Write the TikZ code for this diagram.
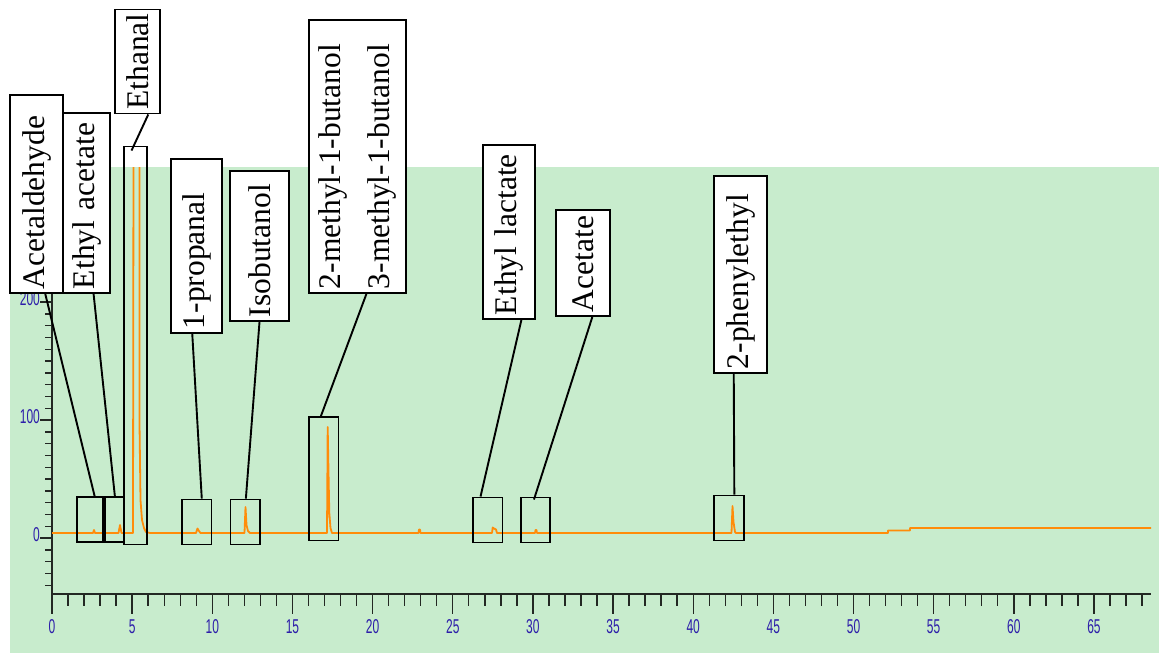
\documentclass[tikz,border=0pt]{standalone}
\usepackage{fontspec}
\setmainfont{Liberation Serif}
\newfontfamily\axisfont{Liberation Sans}
\usetikzlibrary{calc,fit}

\definecolor{plotbg}{RGB}{200,236,205}
\definecolor{trace}{RGB}{255,140,10}
\definecolor{ticklbl}{RGB}{45,30,170}
\definecolor{axisgray}{RGB}{35,40,35}

\begin{document}
\begin{tikzpicture}[x=1pt,y=-1pt,
  axisline/.style={draw=axisgray, line width=2pt},
  tickline/.style={draw=axisgray, line width=1.4pt},
  xlab/.style={text=ticklbl, font=\axisfont\fontsize{20}{20}\selectfont, xscale=0.6, inner sep=0pt},
  ylab/.style={xlab, anchor=east},
  peakbox/.style={draw=black, line width=1.9pt, inner sep=0pt},
  lbl/.style={draw=black, fill=white, line width=1.9pt, rotate=90,
    inner xsep=4pt, inner ysep=0pt, align=left,
    font=\fontsize{31.5}{49}\selectfont},
  link/.style={draw=black, line width=1.9pt}]

% canvas and plot area
\useasboundingbox (0,0) rectangle (1163,653);
\fill[white] (0,0) rectangle (1163,653);
\fill[plotbg] (10,167) rectangle (1159,653);

% y axis with ticks and labels
\draw[axisline] (52,167) -- (52,594);
\foreach \v in {-40,-30,...,310}{
  \pgfmathtruncatemacro\r{mod(abs(\v),100)}
  \ifnum\r=0
    \draw[tickline] (40,538-1.18*\v) -- (52,538-1.18*\v);
  \else
    \draw[tickline] (45,538-1.18*\v) -- (52,538-1.18*\v);
  \fi
}
\foreach \v in {0,100,200}
  \node[ylab] (yl\v) at (40,535-1.18*\v) {\v};

% x axis with ticks and labels
\draw[axisline] (52,594) -- (1151,594);
\foreach \i in {0,...,68}{
  \pgfmathtruncatemacro\r{mod(\i,5)}
  \ifnum\r=0
    \draw[tickline] (52+16.03*\i,594) -- ++(0,20);
  \else
    \draw[tickline] (52+16.03*\i,594) -- ++(0,12);
  \fi
}
\foreach \v in {0,5,...,65}
  \node[xlab] (xl\v) at (52+16.03*\v,627) {\v};

% chromatogram trace
\begin{scope}
  \clip (10,167) rectangle (1159,653);
  \draw[trace, line width=1.8pt, line join=round]
    (52,533) -- (93,533) -- (94,530) -- (95,533) -- (118.5,533) -- (120,525)
    -- (121.5,533) -- (133,533) -- (133.5,150) -- (139.5,150) -- (139.5,423)
    -- (140.5,500) -- (142,520) -- (144,528) -- (146,532) -- (150,533)
    -- (196,533) -- (197.5,528.5) -- (199,531) -- (200.5,533)
    -- (244.5,533) -- (245.5,507) -- (246.5,525) -- (248,531) -- (250,533)
    -- (327,533) -- (327.7,427) -- (328.5,472) -- (329.3,513) -- (330.5,528) -- (332,533)
    -- (418.5,533) -- (419,529.5) -- (420,529.5) -- (420.5,533)
    -- (492,533) -- (492.7,527.5) -- (494,528.5) -- (496,529.5) -- (497,533)
    -- (535,533) -- (535.5,530) -- (536.5,530) -- (537,533)
    -- (731.5,533) -- (732.5,506) -- (733.5,522) -- (735,532) -- (736,533)
    -- (888,533) -- (888,530.5) -- (910,530.5) -- (910,528) -- (1151,528);
\end{scope}

% boxes round the peaks
\node[peakbox, fit={(77,497) (103,542)}] (rAcet) {};
\node[peakbox, fit={(105,497) (123.5,542)}] (rEtAc) {};
\node[peakbox, fit={(124,146.5) (147,544.5)}] (rEtha) {};
\node[peakbox, fit={(182,499.5) (211.5,544.5)}] (rProp) {};
\node[peakbox, fit={(230.5,499.5) (260,544.5)}] (rIsob) {};
\node[peakbox, fit={(309,417) (338.5,540.5)}] (rMeBu) {};
\node[peakbox, fit={(473,497.5) (502.5,542.5)}] (rEtLa) {};
\node[peakbox, fit={(521,497.5) (550,542.5)}] (rAcete) {};
\node[peakbox, fit={(714,495.5) (744,540.5)}] (rPhen) {};

% compound labels
\node[lbl, minimum width=198, text width=190, minimum height=53] (lAcet) at (36.5,194) {Acetaldehyde};
\node[lbl, minimum width=180, text width=172, minimum height=47] (lEtAc) at (86.5,203) {Ethyl acetate};
\node[lbl, minimum width=104, text width=96, minimum height=45] (lEtha) at (137.5,61.5) {Ethanal};
\node[lbl, minimum width=174, text width=166, minimum height=51] (lProp) at (196.5,246) {1-propanal};
\node[lbl, minimum width=150, text width=142, minimum height=59] (lIsob) at (259.5,246) {Isobutanol};
\node[lbl, minimum width=273, text width=265, minimum height=97] (lMeBu) at (357.5,156.5) {2-methyl-1-butanol\\3-methyl-1-butanol};
\node[lbl, minimum width=174, text width=166, minimum height=52] (lEtLa) at (509,232) {Ethyl lactate};
\node[lbl, minimum width=106, text width=98, minimum height=54] (lAcete) at (583,263) {Acetate};
\node[lbl, minimum width=197, text width=189, minimum height=53] (lPhen) at (740.5,274.5) {2-phenylethyl};

% leader lines from labels to peaks
\draw[link] ($(lAcet.north west)!0.66!(lAcet.south west)$) -- ($(rAcet.north west)!0.665!(rAcet.north east)$);
\draw[link] ($(lEtAc.north west)!0.645!(lEtAc.south west)$) -- ($(rEtAc.north west)!0.53!(rEtAc.north east)$);
\draw[link] ($(lEtha.north west)!0.73!(lEtha.south west)$) -- ($(rEtha.north west)!0.34!(rEtha.north east)+(0,5)$);
\draw[link] ($(lProp.north west)!0.42!(lProp.south west)$) -- ($(rProp.north west)!0.66!(rProp.north east)$);
\draw[link] ($(lIsob.north west)!0.5!(lIsob.south west)$) -- ($(rIsob.north west)!0.52!(rIsob.north east)$);
\draw[link] ($(lMeBu.north west)!0.59!(lMeBu.south west)$) -- ($(rMeBu.north west)!0.41!(rMeBu.north east)$);
\draw[link] ($(lEtLa.north west)!0.73!(lEtLa.south west)$) -- ($(rEtLa.north west)!0.27!(rEtLa.north east)$);
\draw[link] ($(lAcete.north west)!0.667!(lAcete.south west)$) -- ($(rAcete.north west)!0.45!(rAcete.north east)+(0,3)$);
\draw[link] ($(lPhen.north west)!0.377!(lPhen.south west)$) -- ($(rPhen.north west)!0.667!(rPhen.north east)$);
\end{tikzpicture}
\end{document}
